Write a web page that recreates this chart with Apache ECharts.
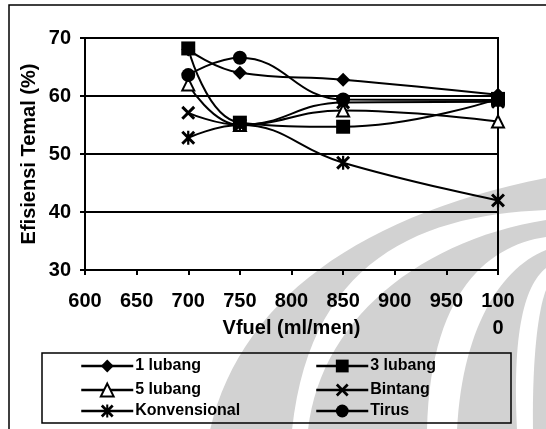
<!DOCTYPE html>
<html>
<head>
<meta charset="utf-8">
<script src="https://cdn.jsdelivr.net/npm/echarts@6/dist/echarts.min.js"></script>
<style>
html,body{margin:0;padding:0;background:#fff;}
#chart{width:546px;height:429px;}
</style>
</head>
<body>
<div id="chart"></div>
<script>
// ---- data ----
const xValues = [700, 750, 850, 1000];
const lubang1 = [68.0, 64.0, 62.8, 60.2];
const lubang3 = [68.2, 55.4, 54.7, 59.5];
const lubang5 = [62.0, 55.0, 57.5, 55.6];
const bintang = [57.1, 55.0, 58.9, 59.0];
const konvensional = [52.8, 55.0, 48.5, 42.0];
const tirus = [63.6, 66.6, 59.4, 59.3];
const seriesNames = ['1 lubang', '3 lubang', '5 lubang', 'Bintang', 'Konvensional', 'Tirus'];
const xTickLabels = {1000: '100\n0'};

const X_PATH = 'path://M0,1.5L1.5,0L10,8.5L8.5,10Z M8.5,0L10,1.5L1.5,10L0,8.5Z';
const AST_PATH = 'path://M0,1.5L1.5,0L10,8.5L8.5,10Z M8.5,0L10,1.5L1.5,10L0,8.5Z M4.2,0L5.8,0L5.8,10L4.2,10Z';

function pairs(ys){ return xValues.map((x,i)=>[x, ys[i]]); }

// decorative watermark shape helper (cubic bezier sampling)
function bez(p0,p1,p2,p3,n){
  const out=[];
  for(let i=0;i<=n;i++){
    const t=i/n, u=1-t;
    out.push([u*u*u*p0[0]+3*u*u*t*p1[0]+3*u*t*t*p2[0]+t*t*t*p3[0],
              u*u*u*p0[1]+3*u*u*t*p1[1]+3*u*t*t*p2[1]+t*t*t*p3[1]]);
  }
  return out;
}
function band(a, b){ return bez(a[0],a[1],a[2],a[3],30).concat(bez(b[0],b[1],b[2],b[3],30)); }

const chart = echarts.init(document.getElementById('chart'), null, {renderer:'canvas'});
const FONT = 'Liberation Sans, Arial, sans-serif';

function mkSeries(name, ys, symbol, size, hollow){
  return {
    name: name, type: 'line', data: pairs(ys),
    smooth: 0.45,
    symbol: symbol, symbolSize: size,
    showAllSymbol: true,
    lineStyle: {color:'#000', width:2},
    itemStyle: hollow ? {color:'#fff', borderColor:'#000', borderWidth:2} : {color:'#000', borderColor:'#000', borderWidth:0},
    emphasis: {disabled:true},
    animation: false
  };
}

const legendPos = [
  {left:80, top:358}, {left:315, top:358},
  {left:80, top:382}, {left:315, top:382},
  {left:80, top:403}, {left:315, top:403}
];

const gray = '#d2d2d2';
const wm = [
  band([[210,430],[240,300],[360,215],[546,178]], [[546,210],[420,215],[310,260],[292,430]]),
  band([[308,430],[320,320],[420,240],[546,220]], [[546,237],[490,245],[430,290],[427,430]]),
  band([[457,430],[462,330],[500,268],[546,250]], [[546,268],[525,285],[512,330],[517,430]]),
  band([[533,430],[532,360],[538,310],[546,290]], [[546,290],[546,330],[546,380],[546,430]])
];

const option = {
  backgroundColor: '#fff',
  animation: false,
  graphic: wm.map(pts=>({type:'polygon', z:-10, shape:{points:pts}, style:{fill:gray}})).concat([
    {type:'rect', z:-5, shape:{x:9, y:5, width:600, height:500}, style:{fill:'none', stroke:'#000', lineWidth:1.5}},
    {type:'rect', z:-5, shape:{x:42, y:353, width:469, height:70}, style:{fill:'none', stroke:'#000', lineWidth:1.5}}
  ]),
  grid: {left:85, right:48, top:38, bottom:159, show:true, borderColor:'#000', borderWidth:2, backgroundColor:'transparent'},
  xAxis: {
    type:'value', min:600, max:1000, interval:50,
    name:'Vfuel (ml/men)', nameLocation:'middle', nameGap:48, nameMoveOverlap:false,
    nameTextStyle:{fontFamily:FONT, fontSize:20, fontWeight:'bold', color:'#000'},
    axisLine:{show:true, lineStyle:{color:'#000', width:2}},
    axisTick:{show:true, inside:false, length:5, lineStyle:{color:'#000', width:2}},
    splitLine:{show:false},
    axisLabel:{fontFamily:FONT, fontSize:20, fontWeight:'bold', color:'#000', margin:18, lineHeight:27,
      formatter:(v)=> xTickLabels[v] !== undefined ? xTickLabels[v] : String(v)}
  },
  yAxis: {
    type:'value', min:30, max:70, interval:10,
    name:'Efisiensi Temal (%)', nameLocation:'middle', nameGap:46, nameRotate:90, nameMoveOverlap:false,
    nameTextStyle:{fontFamily:FONT, fontSize:20, fontWeight:'bold', color:'#000'},
    axisLine:{show:true, lineStyle:{color:'#000', width:2}},
    axisTick:{show:true, inside:false, length:5, lineStyle:{color:'#000', width:2}},
    splitLine:{show:true, lineStyle:{color:'#000', width:2}},
    axisLabel:{fontFamily:FONT, fontSize:20, fontWeight:'bold', color:'#000', margin:14}
  },
  legend: seriesNames.map((n,i)=>({
    data:[n], left:legendPos[i].left, top:legendPos[i].top, padding:0,
    itemWidth:52, itemHeight:16, itemGap:0,
    selectedMode:false,
    lineStyle:{width:2.5, color:'#000'},
    textStyle:{fontFamily:FONT, fontSize:16, fontWeight:'bold', color:'#000', padding:[0,0,0,-3]}
  })),
  series: [
    mkSeries(seriesNames[0], lubang1, 'diamond', 14),
    mkSeries(seriesNames[1], lubang3, 'rect', 14),
    mkSeries(seriesNames[2], lubang5, 'triangle', 12, true),
    mkSeries(seriesNames[3], bintang, X_PATH, 14),
    mkSeries(seriesNames[4], konvensional, AST_PATH, 14),
    mkSeries(seriesNames[5], tirus, 'circle', 14)
  ]
};
chart.setOption(option);
</script>
</body>
</html>
